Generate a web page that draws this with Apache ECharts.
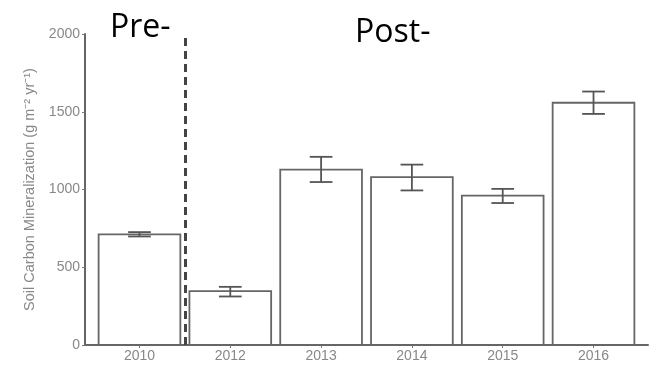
<!DOCTYPE html>
<html>
<head>
<meta charset="utf-8">
<script src="https://cdn.jsdelivr.net/npm/echarts@6/dist/echarts.min.js"></script>
<style>
  html, body { margin: 0; padding: 0; background: #fff; }
  #chart { width: 658px; height: 366px; }
</style>
</head>
<body>
<div id="chart"></div>
<script>
// Soil carbon mineralization by year, mean with error bar
const years = ['2010', '2012', '2013', '2014', '2015', '2016'];
const meanValues = [712, 346, 1128, 1079, 961, 1558];
const errLow = [698, 312, 1048, 994, 913, 1486];
const errHigh = [726, 374, 1210, 1160, 1004, 1630];
const yTicks = [0, 500, 1000, 1500, 2000];
const dividerPos = 1.5; // between the pre- and post- periods

const positions = years.map((_, i) => i + 1);
const barData = positions.map((p, i) => [p, meanValues[i]]);
const errData = positions.map((p, i) => [p, errLow[i], errHigh[i]]);

const BAR_HALF = 0.45;
const CAP_HALF = 0.125;

const chart = echarts.init(document.getElementById('chart'), null, { renderer: 'canvas' });

chart.setOption({
  animation: false,
  backgroundColor: '#ffffff',
  grid: { left: 85, right: 10, top: 34, bottom: 21 },
  xAxis: {
    type: 'value',
    min: 0.4,
    max: 6.6,
    splitLine: { show: false },
    axisLine: { show: true, lineStyle: { color: '#666', width: 2 } },
    axisTick: { show: true, length: 3, customValues: positions, lineStyle: { color: '#777', width: 1 } },
    axisLabel: {
      customValues: positions,
      formatter: v => years[Math.round(v) - 1] || '',
      color: '#888',
      fontFamily: 'Liberation Sans, Arial, sans-serif',
      fontSize: 14,
      margin: 4
    }
  },
  yAxis: {
    type: 'value',
    min: 0,
    max: 2000,
    interval: 500,
    splitLine: { show: false },
    axisLine: { show: true, lineStyle: { color: '#666', width: 2 } },
    axisTick: { show: true, length: 3, lineStyle: { color: '#777', width: 1 } },
    axisLabel: {
      color: '#888',
      fontFamily: 'Liberation Sans, Arial, sans-serif',
      fontSize: 14,
      margin: 5,
      formatter: v => yTicks.includes(v) ? String(v) : ''
    },
    name: 'Soil Carbon Mineralization (g m\u207B\u00B2 yr\u207B\u00B9)',
    nameLocation: 'middle',
    nameRotate: 90,
    nameGap: 46,
    nameTextStyle: {
      color: '#888',
      fontFamily: 'Liberation Sans, Arial, sans-serif',
      fontSize: 14.5
    }
  },
  series: [
    {
      type: 'custom',
      name: 'bars',
      data: barData,
      renderItem: (params, api) => {
        const x = api.value(0);
        const y = api.value(1);
        const p0 = api.coord([x - BAR_HALF, y]);
        const p1 = api.coord([x + BAR_HALF, 0]);
        return {
          type: 'rect',
          shape: { x: p0[0], y: p0[1], width: p1[0] - p0[0], height: p1[1] - p0[1] },
          style: { fill: '#ffffff', stroke: '#666', lineWidth: 1.8 }
        };
      },
      z: 2
    },
    {
      type: 'custom',
      name: 'error',
      data: errData,
      renderItem: (params, api) => {
        const x = api.value(0);
        const lo = api.value(1);
        const hi = api.value(2);
        const a = api.coord([x, lo]);
        const b = api.coord([x, hi]);
        const l = api.coord([x - CAP_HALF, lo])[0];
        const r = api.coord([x + CAP_HALF, lo])[0];
        const st = { stroke: '#555', lineWidth: 1.8 };
        return {
          type: 'group',
          children: [
            { type: 'line', shape: { x1: a[0], y1: a[1], x2: b[0], y2: b[1] }, style: st },
            { type: 'line', shape: { x1: l, y1: a[1], x2: r, y2: a[1] }, style: st },
            { type: 'line', shape: { x1: l, y1: b[1], x2: r, y2: b[1] }, style: st }
          ]
        };
      },
      z: 3
    },
    {
      type: 'line',
      name: 'divider',
      data: [],
      markLine: {
        silent: true,
        symbol: 'none',
        label: { show: false },
        lineStyle: { color: '#444', width: 3, type: [8, 5] },
        data: [{ xAxis: dividerPos }]
      },
      z: 4
    }
  ],
  graphic: [
    {
      type: 'text',
      left: 110,
      top: 12,
      style: { text: 'Pre-', fill: '#000', font: '32px "Open Sans", sans-serif' }
    },
    {
      type: 'text',
      left: 355,
      top: 17,
      style: { text: 'Post-', fill: '#000', font: '32px "Open Sans", sans-serif' }
    }
  ]
});
</script>
</body>
</html>
